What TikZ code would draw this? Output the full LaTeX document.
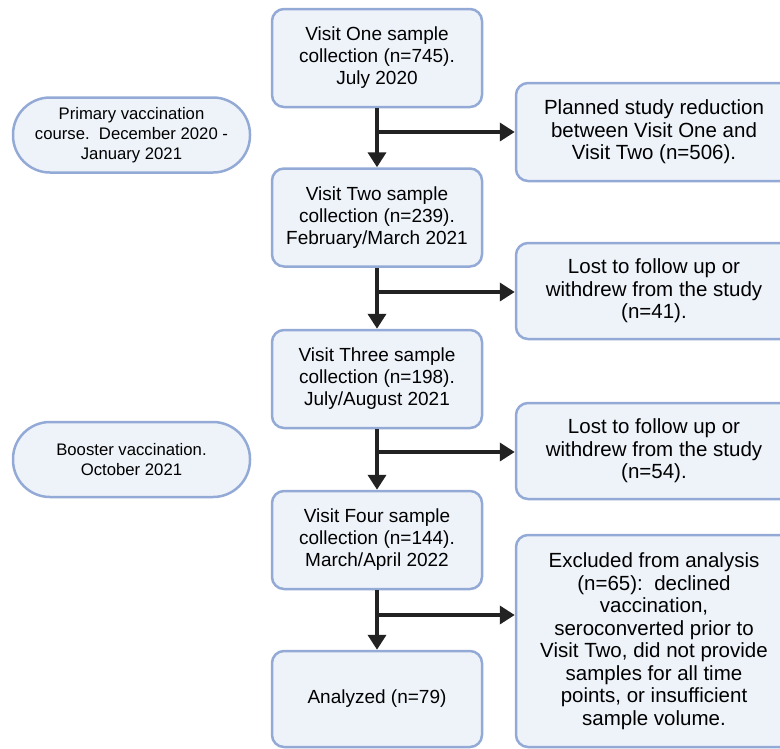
\documentclass[tikz,border=0pt]{standalone}
\usepackage{fontspec}
\setmainfont{Liberation Sans}
\usetikzlibrary{arrows.meta}
\definecolor{boxfill}{HTML}{EEF3FA}
\definecolor{boxline}{HTML}{94AAD6}
\definecolor{arrowc}{HTML}{222222}
\begin{document}
\begin{tikzpicture}[x=1pt,y=-1pt,
  base/.style={draw=boxline, fill=boxfill, line width=2.5pt, align=center, inner sep=0pt, text=black},
  mainbox/.style={base, rounded corners=12pt, minimum width=210pt, minimum height=98pt, font=\fontsize{19}{22}\selectfont},
  sidebox/.style={base, rounded corners=12pt, minimum width=276pt, font=\fontsize{20.5}{22.5}\selectfont},
  pillbox/.style={base, rounded corners=37pt, minimum width=237pt, minimum height=75pt, font=\fontsize{16.7}{20}\selectfont},
  arr/.style={draw=arrowc, line width=4pt, -{Triangle[width=18pt,length=15pt]}},
  trunk/.style={draw=arrowc, line width=4pt}]
\useasboundingbox (0,0) rectangle (780,748);

\node[mainbox] (b1) at (377,58) {Visit One sample\\collection (n=745).\\July 2020};
\node[mainbox] (b2) at (377,217.5) {Visit Two sample\\collection (n=239).\\February/March 2021};
\node[mainbox] (b3) at (377,379) {Visit Three sample\\collection (n=198).\\July/August 2021};
\node[mainbox] (b4) at (377,540) {Visit Four sample\\collection (n=144).\\March/April 2022};
\node[mainbox, minimum height=96pt] (b5) at (377,699) {Analyzed (n=79)};

\node[sidebox, minimum height=98pt] (r1) at (654,132) {Planned study reduction\\between Visit One and\\Visit Two (n=506).};
\node[sidebox, minimum height=96pt] (r2) at (654,291) {Lost to follow up or\\withdrew from the study\\(n=41).};
\node[sidebox, minimum height=96pt] (r3) at (654,451) {Lost to follow up or\\withdrew from the study\\(n=54).};
\node[sidebox, minimum height=212pt] (r4) at (654,641) {Excluded from analysis\\(n=65):\ \ declined\\vaccination,\\seroconverted prior to\\Visit Two, did not provide\\samples for all time\\points, or insufficient\\sample volume.};

\node[pillbox] (p1) at (131.5,135) {Primary vaccination\\course.\ \ December 2020 -\\January 2021};
\node[pillbox] (p2) at (131.5,459.5) {Booster vaccination.\\October 2021};

\coordinate (j1) at (377,132);
\coordinate (j2) at (377,292);
\coordinate (j3) at (377,452);
\coordinate (j4) at (377,615);

\draw[arr] (b1.south) -- (b2.north);
\draw[arr] (b2.south) -- (b3.north);
\draw[arr] (b3.south) -- (b4.north);
\draw[arr] (b4.south) -- (b5.north);
\draw[arr] (j1) -- (j1 -| r1.west);
\draw[arr] (j2) -- (j2 -| r2.west);
\draw[arr] (j3) -- (j3 -| r3.west);
\draw[arr] (j4) -- (j4 -| r4.west);
\end{tikzpicture}
\end{document}
